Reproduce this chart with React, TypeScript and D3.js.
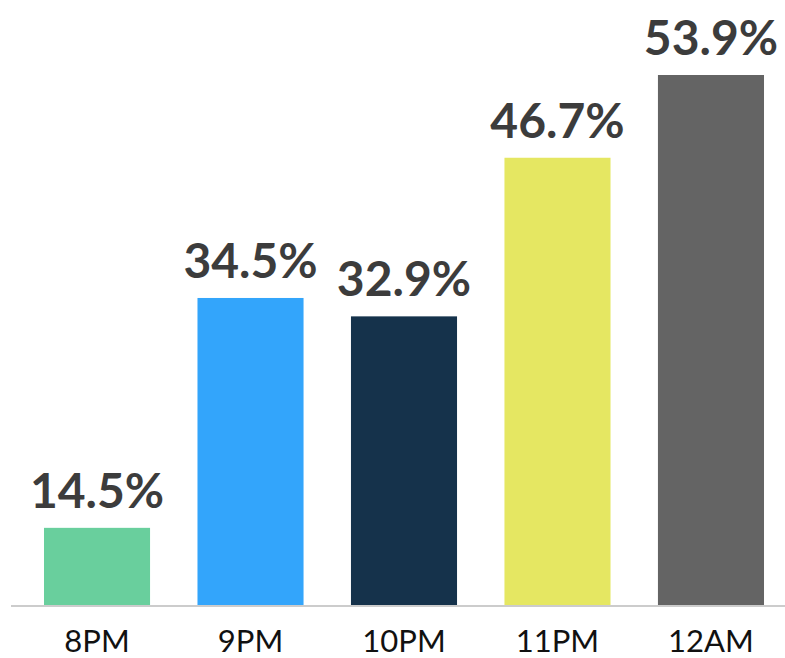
import React from "react";
import * as d3 from "d3";

const categories = ["8PM", "9PM", "10PM", "11PM", "12AM"];
const values = [14.5, 34.5, 32.9, 46.7, 53.9];
const colors = ["#69cf9d", "#33a5fb", "#15324b", "#e5e762", "#646464"];

const W = 785;
const H = 658;

export default function App() {
  const x = d3.scaleBand<string>().domain(categories).range([10, 798]).paddingInner(0.309).paddingOuter(0.2215);
  const y = d3.scaleLinear().domain([7.7, 53.9]).range([606, 75]);
  const fmt = (v: number) => d3.format(".1f")(v) + "%";

  return (
    <svg
      width={W}
      height={H}
      style={{ position: "absolute", left: 0, top: 0, display: "block" }}
      fontFamily="Lato, 'Open Sans', sans-serif"
    >
      <rect width={W} height={H} fill="#ffffff" />
      {categories.map((c, i) => (
        <g key={c}>
          <rect
            x={x(c)}
            y={y(values[i])}
            width={x.bandwidth()}
            height={y.range()[0] - y(values[i])}
            fill={colors[i]}
          />
          <text
            x={(x(c) as number) + x.bandwidth() / 2}
            y={y(values[i]) - 20}
            textAnchor="middle"
            fontSize={48}
            fontWeight={700}
            fill="#3c3c3c"
          >
            {fmt(values[i])}
          </text>
          <text
            x={(x(c) as number) + x.bandwidth() / 2}
            y={652}
            textAnchor="middle"
            fontSize={31}
            fill="#111111"
          >
            {c}
          </text>
        </g>
      ))}
      <line x1={11} x2={W} y1={606} y2={606} stroke="#cccccc" strokeWidth={2} />
    </svg>
  );
}
